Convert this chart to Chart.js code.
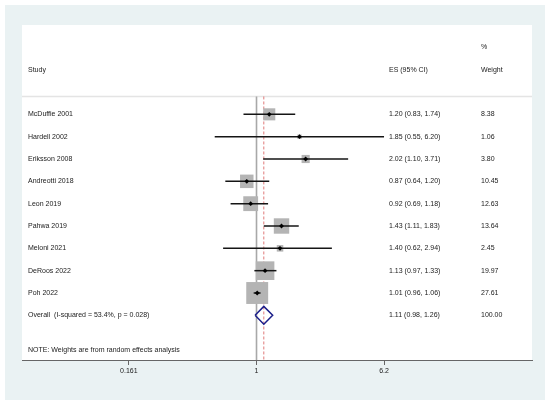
<!DOCTYPE html>
<html>
<head>
<meta charset="utf-8">
<script src="https://cdn.jsdelivr.net/npm/chart.js@4.4.1/dist/chart.umd.min.js"></script>
<style>
  html, body { margin: 0; padding: 0; background: #fff; }
  #wrap { width: 550px; height: 405px; }
</style>
</head>
<body>
<div id="wrap"><canvas id="chart" width="550" height="405"></canvas></div>
<script>
// Study level data
const studies = ['McDuffie 2001', 'Hardell 2002', 'Eriksson 2008', 'Andreotti 2018', 'Leon 2019',
                 'Pahwa 2019', 'Meloni 2021', 'DeRoos 2022', 'Poh 2022'];
const es = [1.20, 1.85, 2.02, 0.87, 0.92, 1.43, 1.40, 1.13, 1.01];
const ciLow = [0.83, 0.55, 1.10, 0.64, 0.69, 1.11, 0.62, 0.97, 0.96];
const ciHigh = [1.74, 6.20, 3.71, 1.20, 1.18, 1.83, 2.94, 1.33, 1.06];
const weights = [8.38, 1.06, 3.80, 10.45, 12.63, 13.64, 2.45, 19.97, 27.61];

// Pooled estimate
const overallLabel = 'Overall  (I-squared = 53.4%, p = 0.028)';
const overallEs = 1.11;
const overallLow = 0.98;
const overallHigh = 1.26;
const overallWeight = 100.00;

const noteText = 'NOTE: Weights are from random effects analysis';

// x axis ticks
const tickValues = [0.161, 1, 6.2];
const tickLabels = ['0.161', '1', '6.2'];

// layout (row units on the y scale, pixel offsets for text columns)
const FONT = '7px "Liberation Sans", Arial, Helvetica, sans-serif';
const overallRow = studies.length;
const headerRow = -2;
const pctRow = -3;
const sepRow = -0.8;
const noteRow = 10.55;
const esColX = 389;
const wColX = 481;

function fmt(v) { return v.toFixed(2); }

const datasets = [];

// reference line at 1
datasets.push({
  type: 'line',
  data: [{ x: 1, y: sepRow }, { x: 1, y: 11 }],
  borderColor: '#a8a8a8', borderWidth: 1.6, pointRadius: 0, order: 10
});
// dashed line at pooled estimate
datasets.push({
  type: 'line',
  data: [{ x: overallEs, y: sepRow }, { x: overallEs, y: 11 }],
  borderColor: '#e07a7a', borderWidth: 1, borderDash: [3, 2], pointRadius: 0, order: 9
});
// weight boxes
datasets.push({
  type: 'scatter',
  data: es.map((v, i) => ({ x: v, y: i })),
  pointStyle: 'rect',
  pointRadius: weights.map(w => Math.sqrt(w) * 2.95),
  backgroundColor: '#b4b4b4', borderWidth: 0, order: 8
});
// confidence intervals
studies.forEach((s, i) => {
  datasets.push({
    type: 'line',
    data: [{ x: ciLow[i], y: i }, { x: ciHigh[i], y: i }],
    borderColor: '#151515', borderWidth: 1.5, pointRadius: 0, order: 5
  });
});
// point estimates
datasets.push({
  type: 'scatter',
  data: es.map((v, i) => ({ x: v, y: i })),
  pointStyle: 'rectRot', pointRadius: 2.4,
  backgroundColor: '#000', borderWidth: 0, order: 3
});
// pooled diamond
datasets.push({
  type: 'line',
  data: [
    { x: overallLow, y: overallRow },
    { x: overallEs, y: overallRow - 0.4 },
    { x: overallHigh, y: overallRow },
    { x: overallEs, y: overallRow + 0.4 },
    { x: overallLow, y: overallRow }
  ],
  borderColor: '#1c1f8a', borderWidth: 1.5, pointRadius: 0, fill: false, tension: 0, order: 2
});

// backgrounds and header rule
const panelPlugin = {
  id: 'panel',
  beforeDraw(chart) {
    const { ctx, chartArea, width, height } = chart;
    ctx.save();
    ctx.fillStyle = '#ffffff';
    ctx.fillRect(0, 0, width, height);
    ctx.fillStyle = '#eaf2f3';
    ctx.fillRect(5, 5, width - 10, height - 10);
    ctx.fillStyle = '#ffffff';
    ctx.fillRect(chartArea.left, chartArea.top, chartArea.right - chartArea.left, chartArea.bottom - chartArea.top);
    const y = chart.scales.y.getPixelForValue(sepRow);
    ctx.strokeStyle = '#e4e4e4';
    ctx.lineWidth = 1.5;
    ctx.beginPath();
    ctx.moveTo(chartArea.left, y);
    ctx.lineTo(chartArea.right, y);
    ctx.stroke();
    ctx.restore();
  }
};

// text columns
const textPlugin = {
  id: 'columns',
  afterDraw(chart) {
    const { ctx, chartArea } = chart;
    const yS = chart.scales.y;
    const labelX = chartArea.left + 6;
    ctx.save();
    ctx.font = FONT;
    ctx.fillStyle = '#1a1a1a';
    ctx.textBaseline = 'middle';
    ctx.textAlign = 'left';

    ctx.fillText('%', wColX, yS.getPixelForValue(pctRow));
    ctx.fillText('Study', labelX, yS.getPixelForValue(headerRow));
    ctx.fillText('ES (95% CI)', esColX, yS.getPixelForValue(headerRow));
    ctx.fillText('Weight', wColX, yS.getPixelForValue(headerRow));

    studies.forEach((s, i) => {
      const y = yS.getPixelForValue(i);
      ctx.fillText(s, labelX, y);
      ctx.fillText(fmt(es[i]) + ' (' + fmt(ciLow[i]) + ', ' + fmt(ciHigh[i]) + ')', esColX, y);
      ctx.fillText(fmt(weights[i]), wColX, y);
    });

    const yo = yS.getPixelForValue(overallRow);
    ctx.fillText(overallLabel, labelX, yo);
    ctx.fillText(fmt(overallEs) + ' (' + fmt(overallLow) + ', ' + fmt(overallHigh) + ')', esColX, yo);
    ctx.fillText(fmt(overallWeight), wColX, yo);

    ctx.fillText(noteText, labelX, yS.getPixelForValue(noteRow));
    ctx.restore();
  }
};

const ctx = document.getElementById('chart').getContext('2d');
new Chart(ctx, {
  data: { datasets: datasets },
  options: {
    responsive: false,
    animation: false,
    layout: { padding: { left: 22, right: 18, top: 25, bottom: 0 } },
    plugins: { legend: { display: false }, tooltip: { enabled: false } },
    scales: {
      x: {
        type: 'logarithmic',
        min: 0.0349,
        max: 51.5,
        position: 'bottom',
        afterBuildTicks: scale => { scale.ticks = tickValues.map(v => ({ value: v })); },
        afterFit: scale => { scale.height = 45; },
        ticks: {
          autoSkip: false, maxRotation: 0, padding: 2,
          color: '#1a1a1a',
          font: { family: '"Liberation Sans", Arial, sans-serif', size: 7 },
          callback: v => tickLabels[tickValues.indexOf(v)]
        },
        grid: { drawOnChartArea: false, drawTicks: true, tickLength: 5, color: '#666', lineWidth: 1 },
        border: { display: true, color: '#666', width: 1 }
      },
      y: { type: 'linear', display: false, min: -4, max: 11, reverse: true }
    }
  },
  plugins: [panelPlugin, textPlugin]
});
</script>
</body>
</html>
